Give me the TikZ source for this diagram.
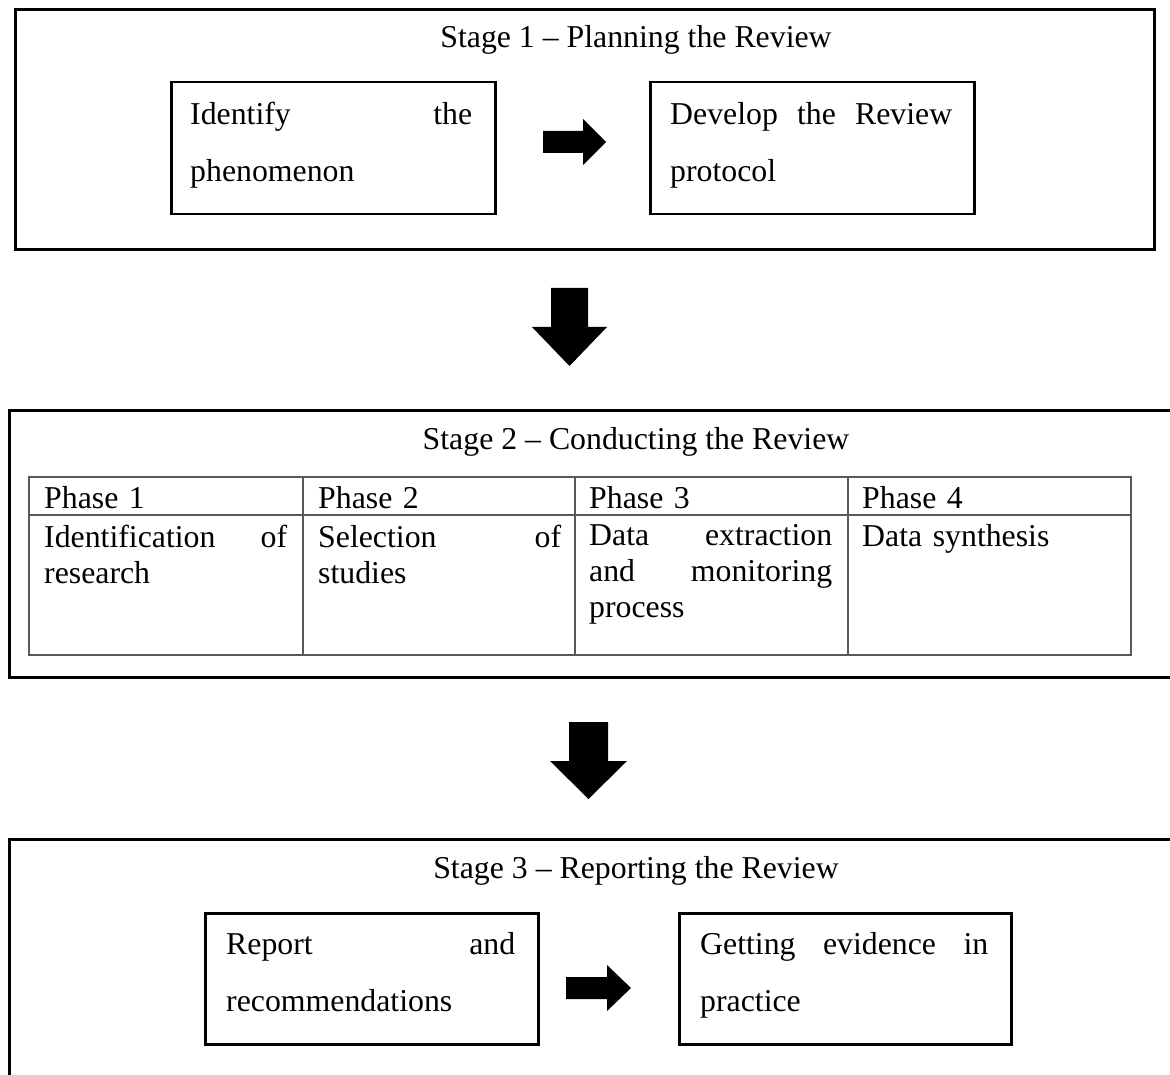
\documentclass[tikz,border=0pt]{standalone}
\usepackage{fontspec}
\setmainfont{Liberation Serif}
\newcommand{\jline}[2]{\leavevmode\hbox to #1{#2}}
\begin{document}
\begin{tikzpicture}[x=1pt,y=-1pt,
  outer/.style={draw=black,line width=3pt,anchor=north west,inner sep=0pt},
  inbox/.style={draw=black,line width=2.5pt,anchor=north west,inner sep=0pt,minimum height=132pt},
  title/.style={font=\fontsize{31.8}{38}\selectfont,anchor=base,inner sep=0pt},
  btxt/.style={font=\fontsize{31.8}{57}\selectfont,anchor=north west,inner sep=0pt,align=left},
  ctxt/.style={font=\fontsize{31.8}{36}\selectfont,anchor=north west,inner sep=0pt,align=left,text width=243pt},
  gridline/.style={draw=black!65,line width=1.2pt},
  blockarrow/.style={fill=black}]
\clip (0,0) rectangle (1170,1075);
\fill[white] (0,0) rectangle (1170,1075);

% ---------- Stage 1 ----------
\node[outer,minimum width=1139pt,minimum height=240pt] (s1) at (14,8) {};
\node[title] (h1) at (636,48) {Stage 1 – Planning the Review};
\node[inbox,minimum width=324pt] (b1) at (170,81) {};
\node[inbox,minimum width=324pt] (b2) at (649,81) {};
\node[btxt,text width=282pt] (t1) at (190,102) {\jline{282pt}{Identify\hfill the}\\phenomenon};
\node[btxt,text width=282pt] (t2) at (670,102) {\jline{282pt}{Develop\hfill the\hfill Review}\\protocol};
\fill[blockarrow] (543,131) -- (583,131) -- (583,119) -- (606,142) -- (583,165) -- (583,153) -- (543,153) -- cycle;

% arrow stage 1 -> stage 2
\fill[blockarrow] (551,288) -- (588,288) -- (588,327) -- (607,327) -- (569.5,366) -- (532,327) -- (551,327) -- cycle;

% ---------- Stage 2 ----------
\node[outer,minimum width=1177pt,minimum height=267pt] (s2) at (8,409) {};
\node[title] (h2) at (636,449) {Stage 2 – Conducting the Review};
\draw[gridline] (29,477) rectangle (1131,655);
\draw[gridline] (29,515) -- (1131,515);
\draw[gridline] (303,477) -- (303,655);
\draw[gridline] (575,477) -- (575,655);
\draw[gridline] (848,477) -- (848,655);
\node[ctxt] (p1) at (44,486.5) {Phase 1};
\node[ctxt] (p2) at (318,486.5) {Phase 2};
\node[ctxt] (p3) at (589,486.5) {Phase 3};
\node[ctxt] (p4) at (862,486.5) {Phase 4};
\node[ctxt] (c1) at (44,524.5) {\jline{243pt}{Identification\hfill of}\\research};
\node[ctxt] (c2) at (318,524.5) {\jline{243pt}{Selection\hfill of}\\studies};
\node[ctxt] (c3) at (589,524.5) {\jline{243pt}{Data\hfill extraction}\\\jline{243pt}{and\hfill monitoring}\\process};
\node[ctxt] (c4) at (862,524.5) {Data synthesis};

% arrow stage 2 -> stage 3
\fill[blockarrow] (569,722) -- (608,722) -- (608,761) -- (627,761) -- (588.5,799) -- (550,761) -- (569,761) -- cycle;

% ---------- Stage 3 ----------
\node[outer,minimum width=1177pt,minimum height=252pt] (s3) at (8,838) {};
\node[title] (h3) at (636,878) {Stage 3 – Reporting the Review};
\node[inbox,minimum width=333pt,minimum height=131pt] (b3) at (204,912) {};
\node[inbox,minimum width=332pt,minimum height=131pt] (b4) at (678,912) {};
\node[btxt,text width=289pt] (t3) at (226,932) {\jline{289pt}{Report\hfill and}\\recommendations};
\node[btxt,text width=288pt] (t4) at (700,932) {\jline{288pt}{Getting\hfill evidence\hfill in}\\practice};
\fill[blockarrow] (566,977) -- (607,977) -- (607,965) -- (631,988) -- (607,1011) -- (607,999) -- (566,999) -- cycle;
\end{tikzpicture}
\end{document}
